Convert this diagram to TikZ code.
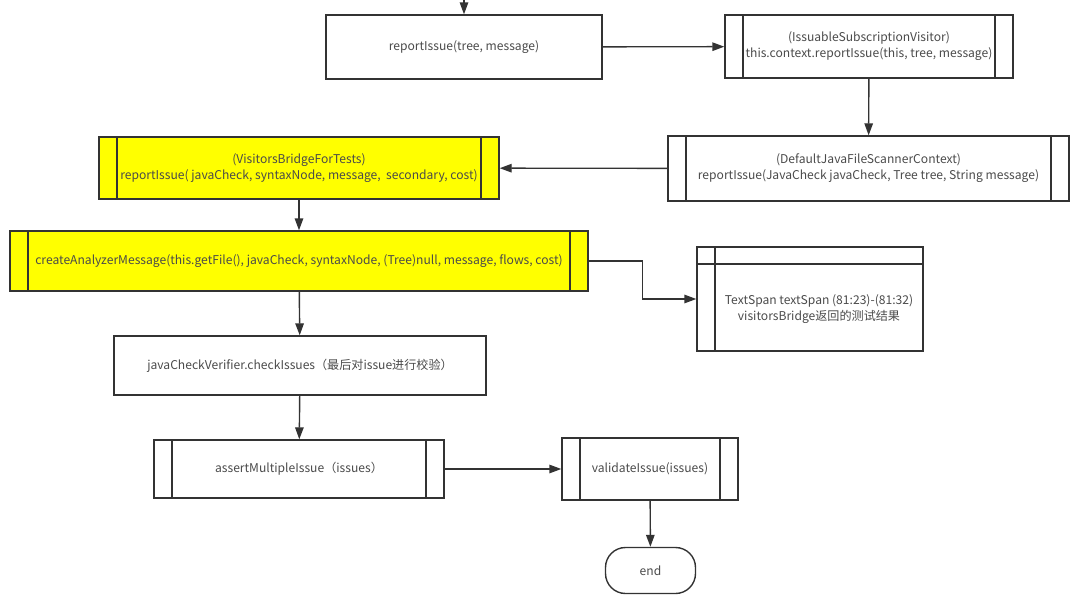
\documentclass[tikz,border=0pt]{standalone}
\usepackage{xcolor}
\usepackage{fontspec}
\setmainfont{Noto Sans CJK SC}
\usepackage{tikz}
\usetikzlibrary{arrows.meta}
\definecolor{ln}{HTML}{333333}
\definecolor{tx}{HTML}{4A4A4A}
\definecolor{hl}{HTML}{FFFF00}

\begin{document}
\begin{tikzpicture}[x=1pt,y=-1pt,every node/.style={draw=ln,line width=1.4pt,text=tx,font=\fontsize{12.1}{16}\selectfont,align=center,inner sep=0pt},sub/.style={path picture={\draw[ln,line width=1.4pt] ([xshift=18pt]path picture bounding box.north west) -- ([xshift=18pt]path picture bounding box.south west) ([xshift=-18pt]path picture bounding box.north east) -- ([xshift=-18pt]path picture bounding box.south east);}},tbl/.style={path picture={\draw[ln,line width=1.4pt] ([xshift=18pt]path picture bounding box.north west) -- ([xshift=18pt]path picture bounding box.south west) ([yshift=-17pt]path picture bounding box.north west) -- ([yshift=-17pt]path picture bounding box.north east);}},flow/.style={draw=ln,line width=1.4pt,-{Triangle[length=12pt,width=8.5pt]}}]
    \useasboundingbox (0,0) rectangle (1080,608);
    \coordinate (top) at (464,0);
    \node[minimum width=276pt,minimum height=64pt] (ri) at (464,47) {reportIssue(tree, message)};
    \node[sub,minimum width=288pt,minimum height=63pt] (isv) at (869,46.5) {(IssuableSubscriptionVisitor)\\this.context.reportIssue(this, tree, message)};
    \node[sub,minimum width=401pt,minimum height=65pt] (ctx) at (868.5,168.5) {(DefaultJavaFileScannerContext)\\reportIssue(JavaCheck javaCheck, Tree tree, String message)};
    \node[sub,fill=hl,minimum width=400pt,minimum height=62pt] (vb) at (299,168) {(VisitorsBridgeForTests)\\reportIssue( javaCheck, syntaxNode, message,\ \ secondary, cost)};
    \node[sub,fill=hl,minimum width=578pt,minimum height=60pt] (cam) at (299,261) {createAnalyzerMessage(this.getFile(), javaCheck, syntaxNode, (Tree)null, message, flows, cost)};
    \node[tbl,minimum width=226pt,minimum height=104pt,label={[draw=none,shift={(9,10)}]center:{TextSpan textSpan (81:23)-(81:32)\\visitorsBridge返回的测试结果}}] (ts) at (810,299) {};
    \node[minimum width=372pt,minimum height=59pt] (jcv) at (300,365.5) {javaCheckVerifier.checkIssues（最后对issue进行校验）};
    \node[sub,minimum width=290pt,minimum height=58pt] (ami) at (299,469) {assertMultipleIssue（issues）};
    \node[sub,minimum width=176pt,minimum height=62pt] (vi) at (650,469) {validateIssue(issues)};
    \node[rounded corners=20pt,minimum width=90pt,minimum height=46pt] (e) at (650.5,570.5) {end};
    \draw[flow] (top) -- (ri);
    \draw[flow] (ri) -- (isv);
    \draw[flow] (isv) -- (ctx);
    \draw[flow] (ctx) -- (vb);
    \draw[flow] (vb) -- (cam);
    \draw[flow] (cam.east) -- ++(54,0) |- (ts.west);
    \draw[flow] (cam) -- (jcv);
    \draw[flow] (jcv) -- (ami);
    \draw[flow] (ami) -- (vi);
    \draw[flow] (vi) -- (e);
\end{tikzpicture}
\end{document}
